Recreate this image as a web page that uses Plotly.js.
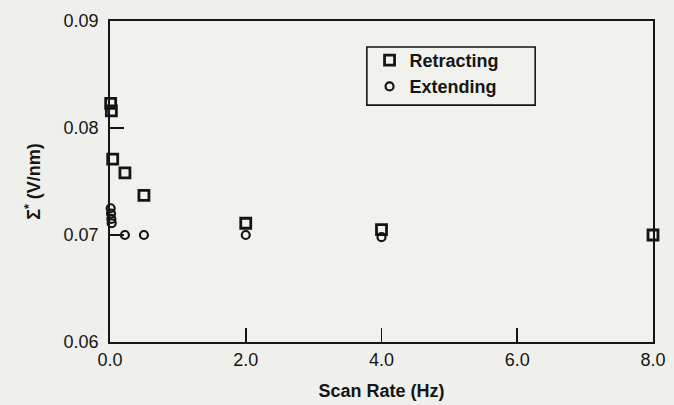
<!DOCTYPE html>
<html>
<head>
<meta charset="utf-8">
<script src="https://cdn.plot.ly/plotly-3.0.1.min.js"></script>
<style>html,body{margin:0;padding:0;background:#efefeb;}</style>
</head>
<body>
<div id="chart" style="width:674px;height:405px;"></div>
<script>
// Retracting series
const retractX = [0.01, 0.02, 0.04, 0.22, 0.5, 2.0, 4.0, 8.0];
const retractY = [0.0823, 0.0816, 0.0771, 0.0758, 0.0737, 0.0711, 0.0705, 0.0700];
// Extending series
const extendX = [0.01, 0.015, 0.02, 0.025, 0.22, 0.5, 2.0, 4.0];
const extendY = [0.0725, 0.0720, 0.0715, 0.0711, 0.0700, 0.0700, 0.0700, 0.0698];
// Axis ticks
const xTicks = [0, 2, 4, 6, 8];
const xTickText = ['0.0', '2.0', '4.0', '6.0', '8.0'];
const yTicks = [0.06, 0.07, 0.08, 0.09];
const yTickText = ['0.06', '0.07', '0.08', '0.09'];

const fam = 'Liberation Sans, Arial, sans-serif';
const ink = '#151515';

const traces = [
  {
    x: retractX, y: retractY, type: 'scatter', mode: 'markers', name: 'Retracting',
    cliponaxis: false,
    marker: {symbol: 'square-open', size: 10, color: ink, line: {width: 2.8, color: ink}}
  },
  {
    x: extendX, y: extendY, type: 'scatter', mode: 'markers', name: 'Extending',
    cliponaxis: false,
    marker: {symbol: 'circle-open', size: 8, color: ink, line: {width: 2.2, color: ink}}
  }
];

const layout = {
  width: 674, height: 405,
  margin: {l: 110, r: 21, t: 21, b: 63},
  paper_bgcolor: '#efefeb',
  plot_bgcolor: '#f1f1ed',
  font: {family: fam, color: ink, size: 18},
  showlegend: true,
  legend: {
    x: 0.478, y: 0.935, xanchor: 'left', yanchor: 'top',
    borderwidth: 0, bgcolor: 'rgba(0,0,0,0)',
    font: {family: fam, size: 18, color: ink, weight: 'bold'},
    itemwidth: 30, tracegroupgap: 0
  },
  shapes: [{
    type: 'rect', xref: 'paper', yref: 'paper',
    x0: 0.473, x1: 0.783, y0: 0.738, y1: 0.919,
    line: {color: ink, width: 1.6}, fillcolor: 'rgba(0,0,0,0)', layer: 'above'
  }],
  xaxis: {
    range: [0, 8], tickvals: xTicks, ticktext: xTickText,
    ticks: 'inside', ticklen: 14, tickwidth: 1.6, tickcolor: ink,
    showline: true, linecolor: ink, linewidth: 1.9, mirror: true,
    showgrid: false, zeroline: false,
    tickfont: {size: 18},
    title: {text: 'Scan Rate (Hz)', font: {size: 18, weight: 'bold'}, standoff: 16}
  },
  yaxis: {
    range: [0.06, 0.09], tickvals: yTicks, ticktext: yTickText,
    ticks: 'inside', ticklen: 14, tickwidth: 1.6, tickcolor: ink,
    showline: true, linecolor: ink, linewidth: 1.9, mirror: true,
    showgrid: false, zeroline: false,
    tickfont: {size: 18}, ticklabelstandoff: 6,
    title: {text: 'Σ<sup>*</sup> (V/nm)', font: {size: 18, weight: 'bold'}, standoff: 18}
  }
};

Plotly.newPlot('chart', traces, layout, {displayModeBar: false, staticPlot: true});
</script>
</body>
</html>
